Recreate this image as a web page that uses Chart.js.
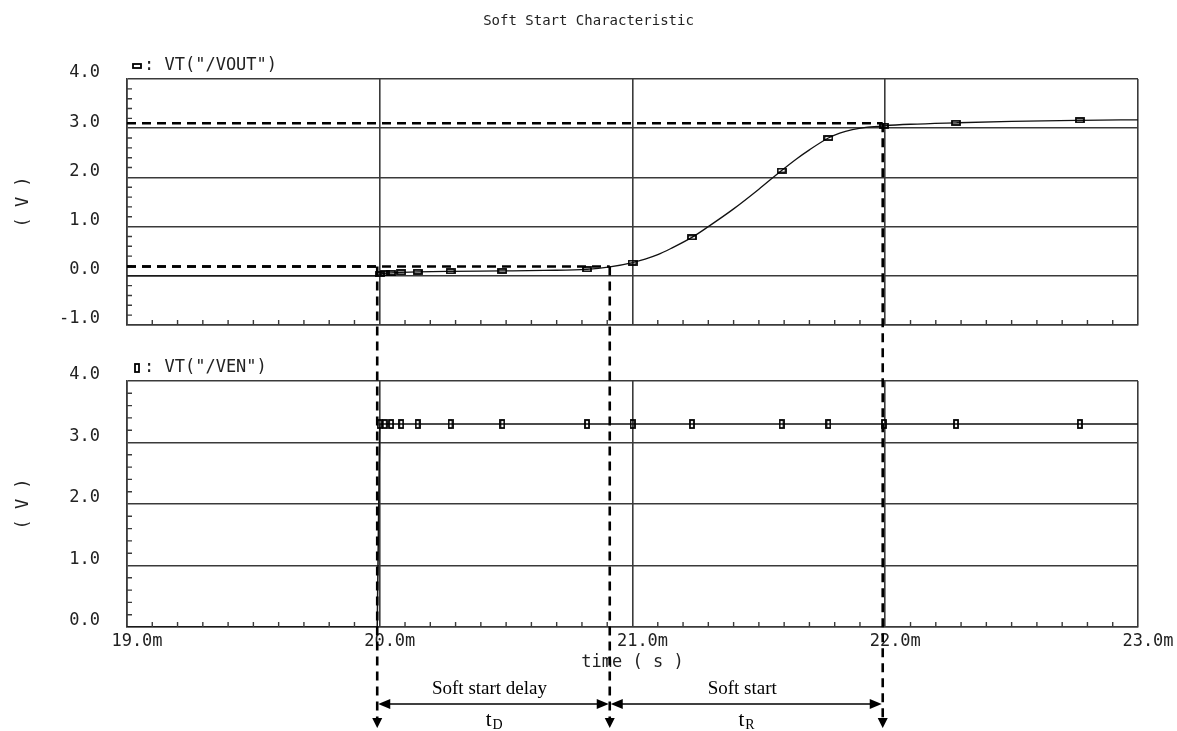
<!DOCTYPE html>
<html lang="en">
<head>
<meta charset="UTF-8">
<title>Soft Start Characteristic</title>
<script src="https://cdn.jsdelivr.net/npm/chart.js"></script>
<style>
  body { margin: 0; background: #fff; }
  #wrap { position: relative; width: 1177px; height: 731px; }
  #wrap canvas { position: absolute; left: 0; top: 0; }
</style>
</head>
<body>
<div id="wrap">
  <canvas id="voutChart" width="1177" height="731"></canvas>
  <canvas id="venChart" width="1177" height="731"></canvas>
</div>
<script>
// time in ms, volts
const timeMs = [19.0, 19.99, 20.0, 20.02, 20.045, 20.085, 20.15, 20.28, 20.485, 20.65, 20.82, 20.91, 21.0, 21.05, 21.1, 21.15, 21.235, 21.3, 21.4, 21.5, 21.59, 21.65, 21.7, 21.775, 21.82, 21.87, 21.93, 21.995, 22.1, 22.28, 22.5, 22.77, 23.0];
const vout = [0, 0, 0.03, 0.05, 0.06, 0.07, 0.08, 0.09, 0.1, 0.11, 0.13, 0.18, 0.27, 0.34, 0.43, 0.55, 0.78, 1.0, 1.36, 1.76, 2.14, 2.38, 2.56, 2.8, 2.9, 2.97, 3.02, 3.05, 3.08, 3.11, 3.14, 3.16, 3.17];
const venTime = [19.0, 19.99, 20.0, 20.02, 20.045, 20.085, 20.15, 20.28, 20.485, 20.82, 21.0, 21.235, 21.59, 21.775, 21.995, 22.28, 22.77, 23.0];
const ven = [0, 0, 3.3, 3.3, 3.3, 3.3, 3.3, 3.3, 3.3, 3.3, 3.3, 3.3, 3.3, 3.3, 3.3, 3.3, 3.3, 3.3];
const markTimes = [20.0, 20.02, 20.045, 20.085, 20.15, 20.28, 20.485, 20.82, 21.0, 21.235, 21.59, 21.775, 21.995, 22.28, 22.77];

// soft start annotation
const edgeTimes = [19.99, 20.91, 21.99];
const edgeLevels = [0.19, 0.19, 3.1];
const spanNames = ["Soft start delay", "Soft start"];
const spanSubs = ["D", "R"];

const gridColor = "#3a3a3a";
const monoFont = { family: "'DejaVu Sans Mono', monospace", size: 17 };

function isMajor(v) { return Math.abs(v - Math.round(v)) < 1e-6; }
function isMark(t) { return markTimes.some(m => Math.abs(m - t) < 1e-9); }

function makeMark(w, h) {
  const c = document.createElement("canvas");
  c.width = w; c.height = h;
  const g = c.getContext("2d");
  g.strokeStyle = "#000";
  g.lineWidth = 1.8;
  g.strokeRect(1, 1, w - 2, h - 2);
  return c;
}
const voutMark = makeMark(10, 6);
const venMark = makeMark(6, 10);

function axisX(showLabels) {
  return {
    type: "linear", min: 19, max: 23,
    grid: { color: c => isMajor(c.tick.value) ? gridColor : "rgba(0,0,0,0)", lineWidth: 1.6, drawTicks: false },
    border: { color: gridColor, width: 1.6 },
    ticks: {
      stepSize: 0.1, autoSkip: false, maxRotation: 0, display: showLabels,
      padding: 4, labelOffset: 10, font: monoFont, color: "#222",
      callback: v => isMajor(v) ? v.toFixed(1) + "m" : ""
    },
    title: { display: showLabels, text: "time ( s )", font: monoFont, color: "#222", padding: { top: 0, bottom: 4 } },
    afterFit: s => { s.height = showLabels ? 50 : 0; }
  };
}

function axisY(min, max) {
  return {
    min: min, max: max,
    grid: { color: c => isMajor(c.tick.value) ? gridColor : "rgba(0,0,0,0)", lineWidth: 1.6, drawTicks: false },
    border: { color: gridColor, width: 1.6 },
    ticks: {
      stepSize: 0.2, autoSkip: false, padding: 27, labelOffset: -6, font: monoFont, color: "#222",
      callback: v => isMajor(v) ? v.toFixed(1) : ""
    },
    title: { display: true, text: "( V )", font: monoFont, color: "#222", padding: { top: 13, bottom: 0 } },
    afterFit: s => { s.width = 127; }
  };
}

// short inward minor ticks on left and bottom edges
const minorTicks = {
  id: "minorTicks",
  afterDraw(chart) {
    const ctx = chart.ctx, a = chart.chartArea;
    ctx.save();
    ctx.strokeStyle = gridColor;
    ctx.lineWidth = 1.4;
    ctx.beginPath();
    chart.scales.x.ticks.forEach(t => {
      if (isMajor(t.value)) return;
      const px = chart.scales.x.getPixelForValue(t.value);
      ctx.moveTo(px, a.bottom); ctx.lineTo(px, a.bottom - 5);
    });
    chart.scales.y.ticks.forEach(t => {
      if (isMajor(t.value)) return;
      const py = chart.scales.y.getPixelForValue(t.value);
      ctx.moveTo(a.left, py); ctx.lineTo(a.left + 5, py);
    });
    ctx.stroke();
    ctx.restore();
  }
};

function drawLegend(ctx, area, mark, text) {
  const y = area.top - 13;
  ctx.drawImage(mark, area.left + 10 - mark.width / 2, y - mark.height / 2);
  ctx.font = "17px 'DejaVu Sans Mono'";
  ctx.fillStyle = "#222";
  ctx.textAlign = "left";
  ctx.textBaseline = "middle";
  ctx.fillText(text, area.left + 17, y);
}

const voutDecor = {
  id: "voutDecor",
  afterDraw(chart) {
    const ctx = chart.ctx, a = chart.chartArea;
    ctx.save();
    ctx.font = "14px 'DejaVu Sans Mono'";
    ctx.fillStyle = "#222";
    ctx.textAlign = "center";
    ctx.textBaseline = "middle";
    ctx.fillText("Soft Start Characteristic", chart.width / 2, 21);
    drawLegend(ctx, a, voutMark, ': VT("/VOUT")');
    ctx.restore();
  }
};

let voutChart;

function arrowHead(ctx, x, y, dir) {
  ctx.beginPath();
  ctx.moveTo(x, y);
  ctx.lineTo(x - dir * 12, y - 5);
  ctx.lineTo(x - dir * 12, y + 5);
  ctx.closePath();
  ctx.fill();
}

const venDecor = {
  id: "venDecor",
  afterDraw(chart) {
    const ctx = chart.ctx, a = chart.chartArea;
    const x = chart.scales.x, yTop = voutChart.scales.y;
    ctx.save();
    drawLegend(ctx, a, venMark, ': VT("/VEN")');

    const arrowY = a.bottom + 77;
    const tipY = a.bottom + 101;
    const px = edgeTimes.map(t => x.getPixelForValue(t));

    // dashed guide lines
    ctx.strokeStyle = "#000";
    ctx.lineWidth = 2.6;
    ctx.setLineDash([9, 6]);
    edgeTimes.forEach((t, i) => {
      const py = yTop.getPixelForValue(edgeLevels[i]);
      ctx.beginPath();
      ctx.moveTo(voutChart.chartArea.left, py);
      ctx.lineTo(px[i], py);
      ctx.stroke();
      ctx.beginPath();
      ctx.moveTo(px[i], py);
      ctx.lineTo(px[i], tipY - 8);
      ctx.stroke();
    });
    ctx.setLineDash([]);

    // down arrows
    ctx.fillStyle = "#000";
    px.forEach(p => {
      ctx.beginPath();
      ctx.moveTo(p, tipY);
      ctx.lineTo(p - 5, tipY - 10);
      ctx.lineTo(p + 5, tipY - 10);
      ctx.closePath();
      ctx.fill();
    });

    // span arrows and labels
    ctx.lineWidth = 1.6;
    for (let i = 0; i < spanNames.length; i++) {
      const x0 = px[i] + 1, x1 = px[i + 1] - 1;
      ctx.beginPath();
      ctx.moveTo(x0 + 6, arrowY);
      ctx.lineTo(x1 - 6, arrowY);
      ctx.stroke();
      arrowHead(ctx, x0, arrowY, -1);
      arrowHead(ctx, x1, arrowY, 1);

      const cx = (x0 + x1) / 2;
      ctx.textAlign = "center";
      ctx.textBaseline = "middle";
      ctx.font = "19px 'Liberation Serif'";
      ctx.fillText(spanNames[i], cx - 4, arrowY - 15);

      ctx.font = "21px 'Liberation Serif'";
      ctx.textAlign = "right";
      ctx.textBaseline = "alphabetic";
      ctx.fillText("t", cx - 2, arrowY + 22);
      ctx.font = "14px 'Liberation Serif'";
      ctx.textAlign = "left";
      ctx.fillText(spanSubs[i], cx - 1, arrowY + 25);
    }
    ctx.restore();
  }
};

const baseOpts = {
  responsive: false,
  animation: false,
  events: [],
  plugins: { legend: { display: false }, tooltip: { enabled: false } }
};

voutChart = new Chart(document.getElementById("voutChart"), {
  type: "line",
  data: {
    datasets: [{
      data: timeMs.map((t, i) => ({ x: t, y: vout[i] })),
      borderColor: "#111",
      borderWidth: 1.3,
      pointStyle: voutMark,
      pointRadius: c => (c.raw && isMark(c.raw.x)) ? 4 : 0,
      cubicInterpolationMode: "monotone"
    }]
  },
  options: Object.assign({}, baseOpts, {
    layout: { padding: { left: 0, right: 39, top: 79, bottom: 406 } },
    scales: { x: axisX(false), y: axisY(-1, 4) }
  }),
  plugins: [minorTicks, voutDecor]
});

new Chart(document.getElementById("venChart"), {
  type: "line",
  data: {
    datasets: [{
      data: venTime.map((t, i) => ({ x: t, y: ven[i] })),
      borderColor: "#111",
      borderWidth: 1.5,
      pointStyle: venMark,
      pointRadius: c => (c.raw && isMark(c.raw.x)) ? 4 : 0,
      tension: 0
    }]
  },
  options: Object.assign({}, baseOpts, {
    layout: { padding: { left: 0, right: 39, top: 381, bottom: 54 } },
    scales: { x: axisX(true), y: axisY(0, 4) }
  }),
  plugins: [minorTicks, venDecor]
});
</script>
</body>
</html>
